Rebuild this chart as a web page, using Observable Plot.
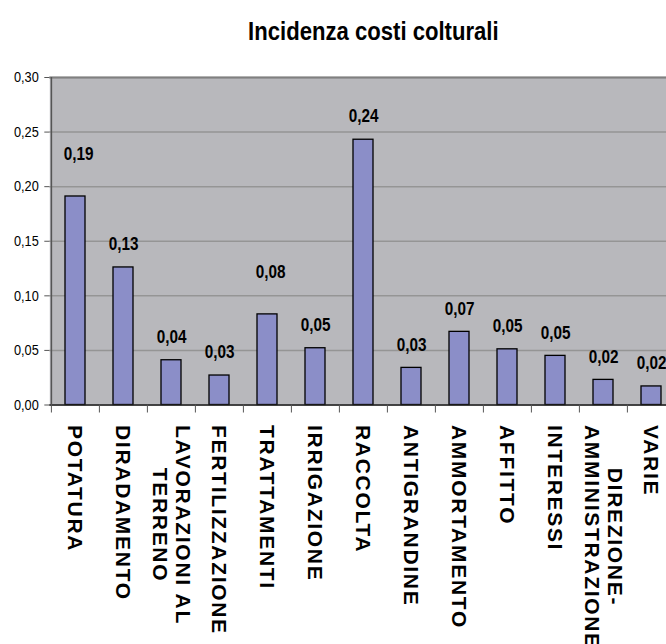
<!DOCTYPE html>
<html><head><meta charset="utf-8">
<script src="https://cdn.jsdelivr.net/npm/d3@7"></script>
<script src="https://cdn.jsdelivr.net/npm/@observablehq/plot@0.6"></script>
<style>
body{margin:0;background:#fff;overflow:hidden;}
#title{box-sizing:border-box;width:666px;height:50px;padding:16px 0 0 80px;line-height:34px;text-align:center;font:bold 26px "Liberation Sans",Arial,sans-serif;color:#000;}
#title span{display:inline-block;transform:scaleX(0.85);}
g[aria-label="x-axis tick label"]{letter-spacing:1.7px;}
</style></head><body>
<div id="title"><span>Incidenza costi colturali</span></div>
<div id="chart"></div>
<script>
const categories = ["POTATURA","DIRADAMENTO","LAVORAZIONI AL\nTERRENO","FERTILIZZAZIONE","TRATTAMENTI","IRRIGAZIONE","RACCOLTA","ANTIGRANDINE","AMMORTAMENTO","AFFITTO","INTERESSI","DIREZIONE-\nAMMINISTRAZIONE","VARIE"];
const values = [0.191,0.126,0.041,0.027,0.083,0.052,0.243,0.034,0.067,0.051,0.045,0.023,0.017];
const valueLabels = ["0,19","0,13","0,04","0,03","0,08","0,05","0,24","0,03","0,07","0,05","0,05","0,02","0,02"];
const yTicks = [0,0.05,0.10,0.15,0.20,0.25,0.30];
const raised = ["POTATURA","TRATTAMENTI"];

const data = categories.map((c,i)=>({category:c, value:values[i], label:valueLabels[i]}));
const x0 = 49.3, x1 = 676;
const bw = (x1 - x0) / categories.length;
const comma = d => d3.format(".2f")(d).replace(".", ",");
const sans = "Liberation Sans, Arial, sans-serif";

const plot = Plot.plot({
  width: 666, height: 594,
  marginTop: 27, marginBottom: 239.5, marginLeft: x0, marginRight: 0,
  x: {domain: categories, range: [x0, x1], padding: 0, label: null},
  y: {domain: [0, 0.30], label: null},
  style: {background: "transparent"},
  marks: [
    Plot.frame({fill: "#b8b8bc"}),
    Plot.gridY(yTicks, {stroke: "#959595", strokeOpacity: 1, strokeWidth: 1.5}),
    Plot.ruleY([0.30], {stroke: "#808080", strokeWidth: 2}),
    Plot.barY(data, {x: "category", y: "value", fill: "#8b8ec8", stroke: "#000", strokeWidth: 1.3, insetLeft: 14, insetRight: 14}),
    Plot.ruleY([0], {stroke: "#222", strokeWidth: 1.3}),
    Plot.ruleX([categories[0]], {dx: -bw/2, stroke: "#555", strokeWidth: 1.5}),
    Plot.axisY({ticks: yTicks, tickSize: 5, tickPadding: 6, tickFormat: comma, fontSize: 15, fontFamily: sans, stroke: "#555", fill: "#000", label: null}),
    Plot.axisX({tickSize: 8, tickFormat: () => "", dx: -bw/2, stroke: "#555", label: null}),
    Plot.axisX({tickSize: 0, tickPadding: 20, tickRotate: 90, textAnchor: "start", lineAnchor: "middle", lineHeight: 1.08, fontSize: 21, fontWeight: "bold", fontFamily: sans, fill: "#000", label: null}),
    Plot.text(data.filter(d => !raised.includes(d.category)), {x: "category", y: "value", text: "label", dy: -23, fontSize: 18, fontWeight: "bold", fontFamily: sans, fill: "#000"}),
    Plot.text(data.filter(d => raised.includes(d.category)), {x: "category", y: "value", text: "label", dy: -42, dx: 3, fontSize: 18, fontWeight: "bold", fontFamily: sans, fill: "#000"})
  ]
});
document.getElementById("chart").append(plot);

// multi-line category labels: centre each line within the block (as in the original)
plot.querySelectorAll('g[aria-label="x-axis tick label"] text').forEach(t => {
  const spans = t.querySelectorAll("tspan");
  if (spans.length > 1) {
    const m = Math.max(...[...spans].map(s => s.getComputedTextLength()));
    t.setAttribute("text-anchor", "middle");
    spans.forEach(s => s.setAttribute("x", m / 2));
  }
});
// narrow typeface look: compress horizontally around each anchor
function squeeze(sel, k) {
  plot.querySelectorAll(sel + " text").forEach(t => {
    const tr = t.getAttribute("transform") || "";
    t.setAttribute("transform", `${tr} scale(${k},1)`);
  });
}
squeeze('g[aria-label="text"]', 0.85);
squeeze('g[aria-label="y-axis tick label"]', 0.85);
</script>
</body></html>
